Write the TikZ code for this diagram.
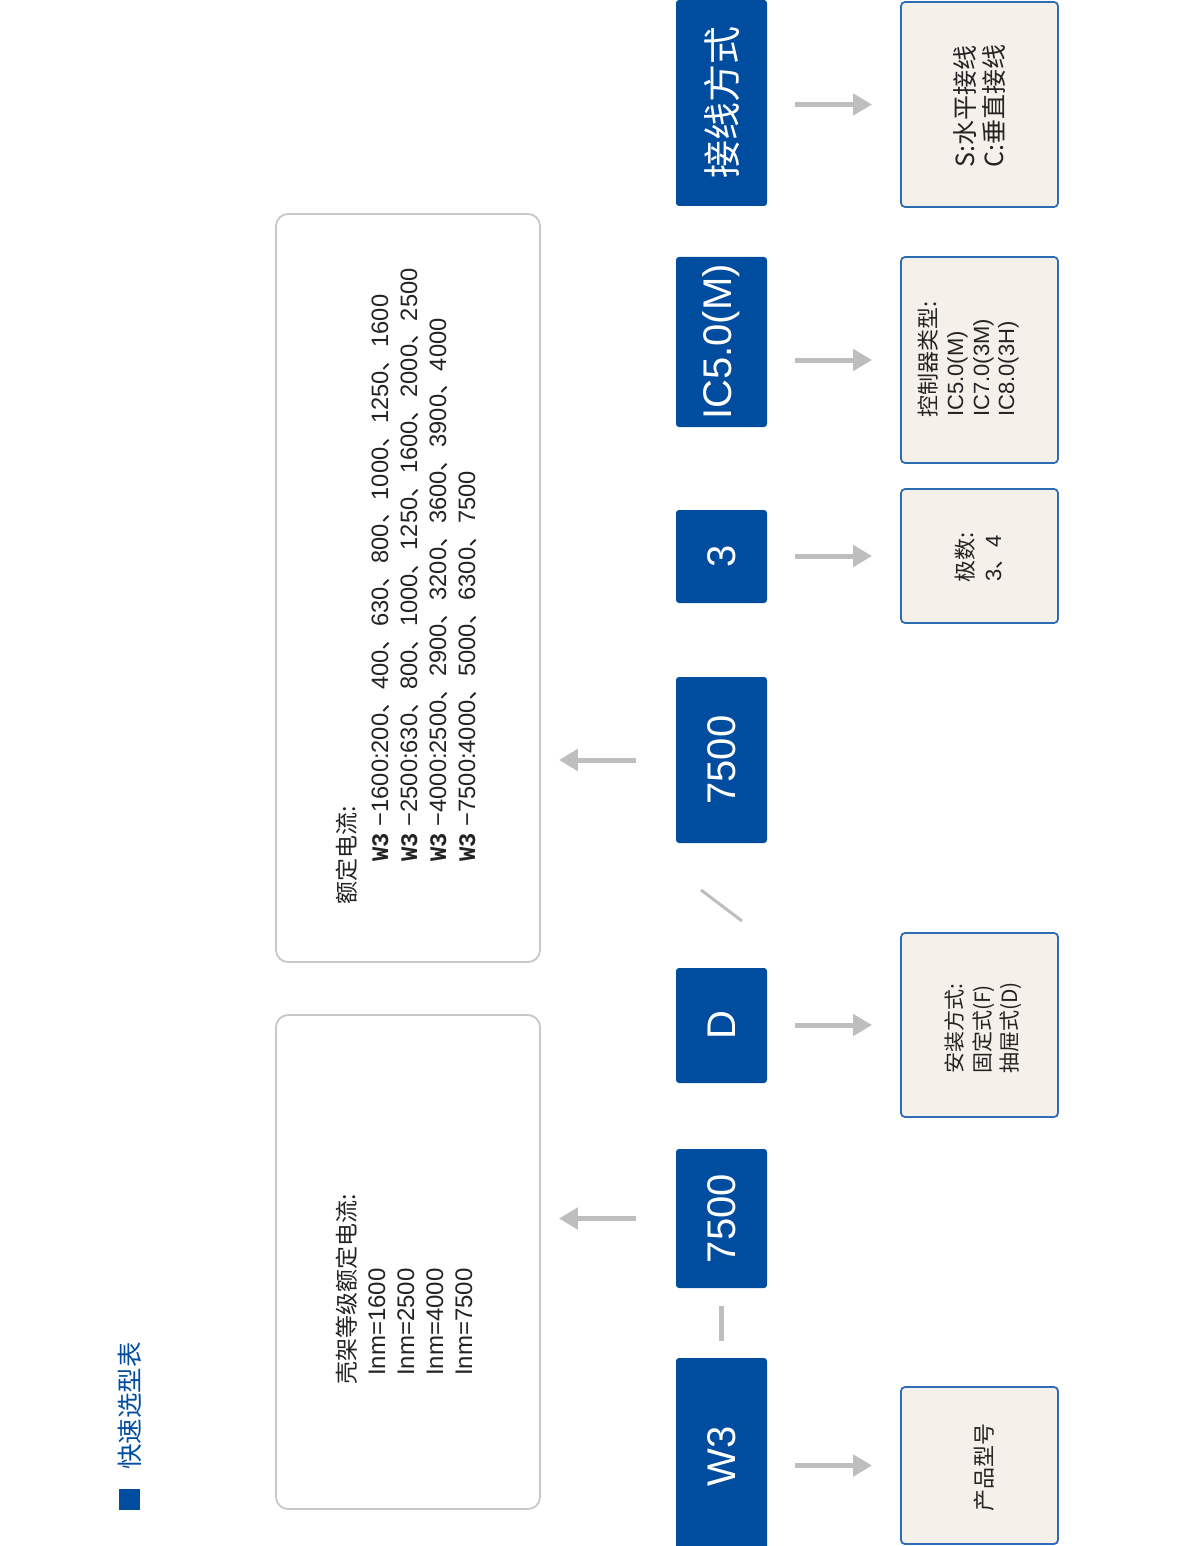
\documentclass[tikz,border=0pt]{standalone}
\usepackage{fontspec}
\usepackage{graphicx}
\setmainfont{Liberation Sans}
\newfontfamily\cjk{Noto Sans CJK SC}
\newfontfamily\wmono{Liberation Mono}
\usetikzlibrary{arrows.meta}
\definecolor{cblue}{RGB}{0,77,160}
\definecolor{cbeige}{RGB}{245,240,234}
\definecolor{cborder}{RGB}{46,108,182}
\definecolor{cgrayline}{RGB}{200,200,200}
\definecolor{carrow}{RGB}{190,190,190}
\definecolor{ctext}{RGB}{35,35,35}
\newcommand\dn{{\cjk 、}}
\begin{document}
\begin{tikzpicture}[x=1pt,y=-1pt,
  bluebox/.style={fill=cblue, draw=none, rounded corners=3pt, inner sep=0pt, text=white, font=\fontsize{40}{48}\selectfont},
  infobox/.style={fill=cbeige, draw=cborder, line width=1.8pt, rounded corners=4pt, inner sep=0pt},
  graybox/.style={fill=white, draw=cgrayline, line width=1.8pt, rounded corners=12pt, inner sep=0pt},
  arr/.style={draw=carrow, line width=5pt, -{Triangle[length=19pt,width=21pt]}},
  txt/.style={rotate=90, anchor=base west, inner sep=0pt, text=ctext},
  cjktxt/.style={txt, font=\cjk\fontsize{#1}{#1}\selectfont},
  lattxt/.style={txt, font=\fontsize{#1}{#1}\selectfont},
]
\useasboundingbox (0,0) rectangle (1200,1546);

% title
\node[fill=cblue, minimum size=21pt, inner sep=0pt] (sq) at (129,1499) {};
\node[txt, text=cblue, font=\cjk\fontsize{25.5}{26}\selectfont] (title) at (139,1470) {快速选型表};

% gray boxes
\node[graybox, minimum width=264pt, minimum height=748pt] (g1) at (408,588) {};
\node[graybox, minimum width=264pt, minimum height=494pt] (g2) at (408,1262) {};

% blue code boxes
\node[bluebox, minimum width=91pt, minimum height=206pt] (b1) at (721.5,103) {\rotatebox{90}{\cjk\fontsize{38}{40}\selectfont 接线方式}};
\node[bluebox, minimum width=91pt, minimum height=170pt] (b2) at (721.5,342) {\rotatebox{90}{IC5.0(M)}};
\node[bluebox, minimum width=91pt, minimum height=93pt] (b3) at (721.5,556.5) {\rotatebox{90}{3}};
\node[bluebox, minimum width=91pt, minimum height=166pt] (b4) at (721.5,760) {\rotatebox{90}{7500}};
\node[bluebox, minimum width=91pt, minimum height=115pt] (b5) at (721.5,1025.5) {\rotatebox{90}{D}};
\node[bluebox, minimum width=91pt, minimum height=139pt] (b6) at (721.5,1218.5) {\rotatebox{90}{7500}};
\node[bluebox, minimum width=91pt, minimum height=196pt] (b7) at (721.5,1456) {\rotatebox{90}{W3}};

% info boxes
\node[infobox, minimum width=157pt, minimum height=205pt] (r1) at (979.5,104.5) {};
\node[infobox, minimum width=157pt, minimum height=206pt] (r2) at (979.5,360) {};
\node[infobox, minimum width=157pt, minimum height=134pt] (r3) at (979.5,556) {};
\node[infobox, minimum width=157pt, minimum height=184pt] (r4) at (979.5,1025) {};
\node[infobox, minimum width=157pt, minimum height=157pt] (r5) at (979.5,1465.5) {};

% info texts
\node[cjktxt=25] (r1a) at (974,168) {S:水平接线};
\node[cjktxt=25] (r1b) at (1003,168) {C:垂直接线};
\node[cjktxt=22] (r2a) at (936,418) {控制器类型:};
\node[lattxt=22] (r2b) at (963,417) {IC5.0(M)};
\node[lattxt=22] (r2c) at (989,417) {IC7.0(3M)};
\node[lattxt=22] (r2d) at (1014,417) {IC8.0(3H)};
\node[cjktxt=22] (r3a) at (973,583) {极数:};
\node[lattxt=22] (r3b) at (1001,582) {3\dn 4};
\node[cjktxt=21] (r4a) at (962,1074) {安装方式:};
\node[cjktxt=21] (r4b) at (990,1074) {固定式(F)};
\node[cjktxt=21] (r4c) at (1017,1074) {抽屉式(D)};
\node[cjktxt=22] (r5a) at (992,1512) {产品型号};

% rated current texts (upper gray box)
\node[cjktxt=23] (g1h) at (355,905) {额定电流:};
\node[lattxt=23.7] (g1a) at (388,862) {{\wmono\bfseries W3}\hspace{7pt}−1600:200\dn 400\dn 630\dn 800\dn 1000\dn 1250\dn 1600};
\node[lattxt=23.7] (g1b) at (417,862) {{\wmono\bfseries W3}\hspace{7pt}−2500:630\dn 800\dn 1000\dn 1250\dn 1600\dn 2000\dn 2500};
\node[lattxt=23.7] (g1c) at (446,862) {{\wmono\bfseries W3}\hspace{7pt}−4000:2500\dn 2900\dn 3200\dn 3600\dn 3900\dn 4000};
\node[lattxt=23.7] (g1d) at (475,862) {{\wmono\bfseries W3}\hspace{7pt}−7500:4000\dn 5000\dn 6300\dn 7500};

% frame rated current texts (lower gray box)
\node[cjktxt=23] (g2h) at (355,1385) {壳架等级额定电流:};
\node[lattxt=24] (g2a) at (385,1376) {Inm=1600};
\node[lattxt=24] (g2b) at (414,1376) {Inm=2500};
\node[lattxt=24] (g2c) at (443,1376) {Inm=4000};
\node[lattxt=24] (g2d) at (472,1376) {Inm=7500};

% arrows to info boxes
\draw[arr, shorten <=28pt, shorten >=28pt] (r1.west -| b1.east) -- (r1.west);
\draw[arr, shorten <=28pt, shorten >=28pt] (r2.west -| b2.east) -- (r2.west);
\draw[arr, shorten <=28pt, shorten >=28pt] (r3.west -| b3.east) -- (r3.west);
\draw[arr, shorten <=28pt, shorten >=28pt] (r4.west -| b5.east) -- (r4.west);
\draw[arr, shorten <=28pt, shorten >=28pt] (r5.west -| b7.east) -- (r5.west);

% arrows to gray boxes
\draw[arr, shorten <=40pt, shorten >=18pt] (b4.west) -- (b4.west -| g1.east);
\draw[arr, shorten <=40pt, shorten >=18pt] (b6.west) -- (b6.west -| g2.east);

% separators
\draw[draw=carrow, line width=5pt, shorten <=18pt, shorten >=17pt] (b6.south) -- (b7.north);
\coordinate (s1) at (701,890);
\coordinate (s2) at (742,921);
\draw[draw=carrow, line width=3pt] (s1) -- (s2);
\end{tikzpicture}
\end{document}
